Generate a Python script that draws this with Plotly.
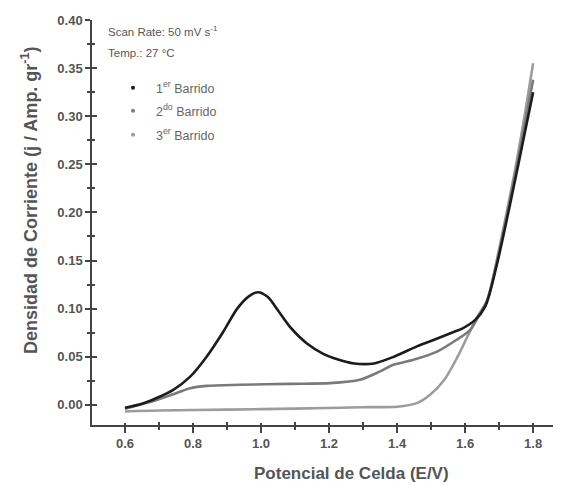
import plotly.graph_objects as go

# Data
x1 = [0.6, 0.65, 0.693, 0.742, 0.791, 0.84, 0.889, 0.93, 0.965, 0.991, 1.02, 1.05, 1.085, 1.134, 1.183,
      1.215, 1.274, 1.332, 1.391, 1.46, 1.509, 1.568, 1.59, 1.629, 1.659, 1.693, 1.742, 1.771, 1.80]
y1 = [-0.003, 0.001, 0.007, 0.0156, 0.029, 0.050, 0.076, 0.100, 0.113, 0.117, 0.112, 0.098, 0.081, 0.064,
      0.053, 0.0485, 0.043, 0.043, 0.050, 0.061, 0.0676, 0.076, 0.079, 0.088, 0.102, 0.145, 0.225, 0.275,
      0.325]

x2 = [0.6, 0.693, 0.75, 0.791, 0.84, 0.938, 1.085, 1.203, 1.291, 1.35, 1.389, 1.448, 1.516, 1.575,
      1.615, 1.644, 1.665, 1.693, 1.742, 1.771, 1.80]
y2 = [-0.004, 0.005, 0.012, 0.0173, 0.0197, 0.0208, 0.0218, 0.0225, 0.026, 0.0347, 0.0416, 0.0468, 0.055,
      0.0676, 0.078, 0.095, 0.109, 0.148, 0.230, 0.283, 0.338]

x3 = [0.6, 0.7, 0.9, 1.1, 1.3, 1.40, 1.458, 1.497, 1.539, 1.578, 1.607, 1.637, 1.666, 1.693, 1.742,
      1.771, 1.80]
y3 = [-0.007, -0.006, -0.005, -0.004, -0.0025, -0.002, 0.0017, 0.0104, 0.026, 0.050, 0.071, 0.092, 0.109,
      0.150, 0.235, 0.292, 0.355]

series_names = ["1<sup>er</sup> Barrido", "2<sup>do</sup> Barrido", "3<sup>er</sup> Barrido"]
series_colors = ["#1c1c1c", "#7a7a7a", "#9c9c9c"]

x_ticks = [0.6, 0.8, 1.0, 1.2, 1.4, 1.6, 1.8]
x_ticktext = ["0.6", "0.8", "1.0", "1.2", "1.4", "1.6", "1.8"]
y_ticks = [0.00, 0.05, 0.10, 0.15, 0.20, 0.25, 0.30, 0.35, 0.40]
y_ticktext = ["0.00", "0.05", "0.10", "0.15", "0.20", "0.25", "0.30", "0.35", "0.40"]
x_minor = [0.7, 0.9, 1.1, 1.3, 1.5, 1.7]
y_minor = [0.025, 0.075, 0.125, 0.175, 0.225, 0.275, 0.325, 0.375]

TXT = "#555555"
AX = "#444444"

fig = go.Figure()
for xs, ys, c in [(x3, y3, series_colors[2]), (x2, y2, series_colors[1]), (x1, y1, series_colors[0])]:
    fig.add_trace(go.Scatter(x=xs, y=ys, mode="lines", showlegend=False,
                             line=dict(color=c, width=2.6, shape="spline", smoothing=0.8)))

legend_ids = ["legend", "legend2", "legend3"]
for name, c, lg in zip(series_names, series_colors, legend_ids):
    fig.add_trace(go.Scatter(x=[None], y=[None], mode="markers", name=name, legend=lg,
                             marker=dict(color=c, size=4)))

# invisible trace for the crossing-tick overlay axes
fig.add_trace(go.Scatter(x=[0.6], y=[0.0], xaxis="x2", yaxis="y2", mode="markers",
                         marker=dict(opacity=0), showlegend=False, hoverinfo="skip"))

xr = [0.503, 1.882]
yr = [-0.021, 0.40]
tf = dict(family="Arial, Liberation Sans", size=13, color=TXT, weight="bold")

# page body has an 8px margin
W, H = 553, 477
L, R, T, B = 84, 0, 12, 60
pw = W - L - R
ph = H - T - B


def to_paper(px, py):
    return (px - 8 - L) / pw, 1 - (py - 8 - T) / ph


fig.update_layout(
    width=W, height=H,
    margin=dict(l=L, r=R, t=T, b=B),
    paper_bgcolor="white", plot_bgcolor="white",
    font=dict(family="Arial, Liberation Sans", color=TXT),
    xaxis=dict(range=xr, tickvals=x_ticks, ticktext=x_ticktext, automargin=False,
               showgrid=False, zeroline=False, showline=True, linecolor=AX, linewidth=1.5,
               ticks="outside", ticklen=6, tickwidth=1.5, tickcolor=AX, tickfont=tf,
               minor=dict(tickvals=x_minor, ticks="outside", ticklen=3, tickwidth=1.5, tickcolor=AX)),
    yaxis=dict(range=yr, tickvals=y_ticks, ticktext=y_ticktext, automargin=False,
               showgrid=False, zeroline=False, showline=True, linecolor=AX, linewidth=1.5,
               ticks="outside", ticklen=5, tickwidth=1.5, tickcolor=AX, tickfont=tf,
               minor=dict(tickvals=y_minor, ticks="outside", ticklen=3, tickwidth=1.5, tickcolor=AX)),
    xaxis2=dict(range=xr, overlaying="x", anchor="y", side="bottom", showticklabels=False, automargin=False,
                showgrid=False, zeroline=False, showline=False, tickvals=x_ticks, ticks="inside",
                ticklen=2, tickwidth=1.5, tickcolor=AX,
                minor=dict(tickvals=x_minor, ticks="inside", ticklen=3, tickwidth=1.5, tickcolor=AX)),
    yaxis2=dict(range=yr, overlaying="y", anchor="x", side="left", showticklabels=False, automargin=False,
                showgrid=False, zeroline=False, showline=False, tickvals=y_ticks, ticks="inside",
                ticklen=5, tickwidth=1.5, tickcolor=AX,
                minor=dict(tickvals=y_minor, ticks="inside", ticklen=3, tickwidth=1.5, tickcolor=AX)),
)

# legends, one per row so that row spacing matches
legend_rows = [88, 111, 135]
for lg, py in zip(legend_ids, legend_rows):
    lx, ly = to_paper(110, py)
    fig.update_layout({lg: dict(x=lx, y=ly, xanchor="left", yanchor="middle", bgcolor="rgba(0,0,0,0)",
                                font=dict(family="Arial, Liberation Sans", size=12.5, color="#666666"),
                                itemwidth=36)})

annots = [
    ("Scan Rate: 50 mV s<sup>-1</sup>", 106, 31, 11.5, "left", 0),
    ("Temp.: 27 °C", 106, 53, 11.5, "left", 0),
    ("<b>Potencial de Celda (E/V)</b>", 351, 473, 17, "center", 0),
    ("<b>Densidad de Corriente (j / Amp. gr<sup>-1</sup>)</b>", 29, 200, 18, "center", -90),
]
for text, px, py, size, xa, ang in annots:
    ax_, ay_ = to_paper(px, py)
    fig.add_annotation(text=text, x=ax_, y=ay_, xref="paper", yref="paper", showarrow=False,
                       xanchor=xa, yanchor="middle", textangle=ang,
                       font=dict(size=size, color=TXT, family="Arial, Liberation Sans"))

fig.write_html("out.html")
